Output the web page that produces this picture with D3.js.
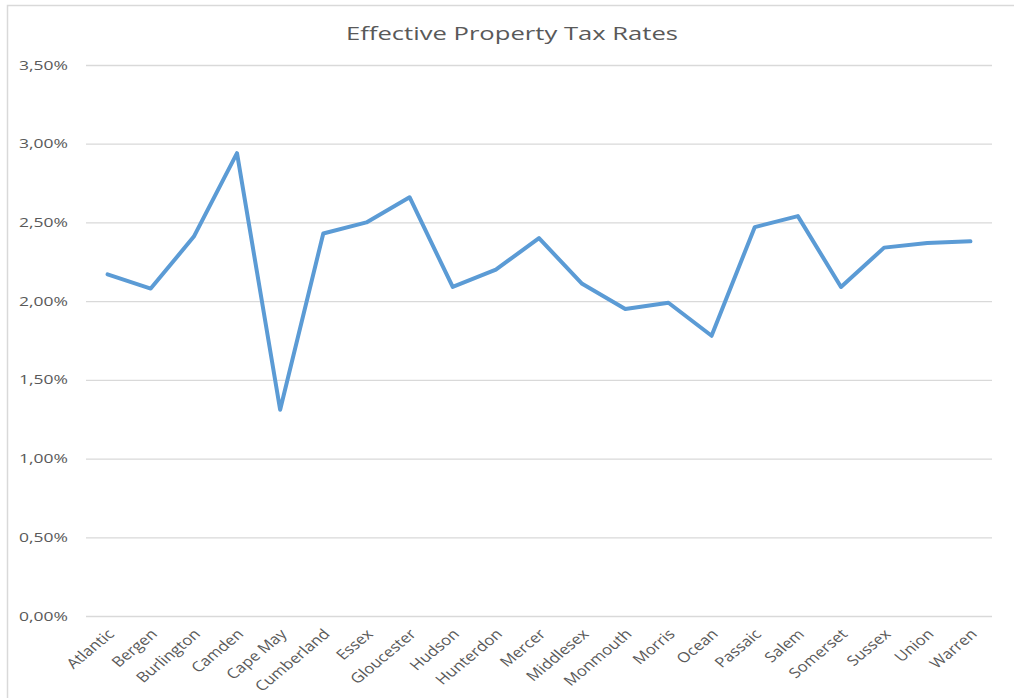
<!DOCTYPE html>
<html>
<head>
<meta charset="utf-8">
<script src="https://cdn.jsdelivr.net/npm/d3@7"></script>
<style>
  body { margin: 0; background: #fff; }
  svg { display: block; }
</style>
</head>
<body>
<div id="chart"></div>
<script>
const counties = ['Atlantic', 'Bergen', 'Burlington', 'Camden', 'Cape May', 'Cumberland', 'Essex',
  'Gloucester', 'Hudson', 'Hunterdon', 'Mercer', 'Middlesex', 'Monmouth', 'Morris', 'Ocean',
  'Passaic', 'Salem', 'Somerset', 'Sussex', 'Union', 'Warren'];
const rates = [2.17, 2.08, 2.41, 2.94, 1.31, 2.43, 2.50, 2.66, 2.09, 2.20, 2.40, 2.11, 1.95, 1.99,
  1.78, 2.47, 2.54, 2.09, 2.34, 2.37, 2.38];
const yTicks = [0, 0.5, 1, 1.5, 2, 2.5, 3, 3.5];

const width = 1014;
const height = 698;
const margin = { top: 65, right: 22, bottom: 82, left: 86 };
const stretch = 1.4; // the original text looks widened sideways
const labelStretch = 1.2;

const svg = d3.select('#chart')
  .append('svg')
  .attr('width', width)
  .attr('height', height)
  .attr('font-family', '"Open Sans", sans-serif');

// chart frame (cut off at right and bottom)
svg.append('path')
  .attr('d', `M7.5,${height}V5.5H${width}`)
  .attr('fill', 'none')
  .attr('stroke', '#d9d9d9')
  .attr('stroke-width', 1.5);

svg.append('text')
  .attr('transform', `translate(512,40) scale(${stretch},1)`)
  .attr('text-anchor', 'middle')
  .attr('font-size', 18.3)
  .attr('fill', '#595959')
  .text('Effective Property Tax Rates');

const x = d3.scalePoint()
  .domain(counties)
  .range([margin.left, width - margin.right])
  .padding(0.5);

const y = d3.scaleLinear()
  .domain([0, 3.5])
  .range([height - margin.bottom, margin.top]);

const fmt = (v) => `${v.toFixed(2).replace('.', ',')}%`;

svg.append('g')
  .attr('transform', `translate(${margin.left},0)`)
  .call(d3.axisLeft(y).tickValues(yTicks).tickFormat(fmt)
    .tickSize(-(width - margin.left - margin.right)).tickPadding(18))
  .call((g) => g.select('.domain').remove())
  .call((g) => g.selectAll('.tick line').attr('stroke', '#d9d9d9').attr('stroke-width', 1.3))
  .call((g) => g.selectAll('.tick text')
    .attr('x', -18 / stretch)
    .attr('transform', `scale(${stretch},1)`)
    .attr('fill', '#595959')
    .attr('font-size', 12.5)
    .attr('font-family', '"Open Sans", sans-serif'));

svg.append('g')
  .attr('transform', `translate(0,${height - margin.bottom})`)
  .call(d3.axisBottom(x).tickSize(0).tickPadding(0))
  .call((g) => g.select('.domain').remove())
  .call((g) => g.selectAll('.tick text')
    .attr('fill', '#595959')
    .attr('font-size', 14)
    .attr('font-family', '"Open Sans", sans-serif')
    .attr('text-anchor', 'end')
    .attr('y', 0)
    .attr('dy', null)
    .attr('transform', `translate(7,19) scale(${labelStretch},1) rotate(-45)`));

const line = d3.line()
  .x((d, i) => x(counties[i]))
  .y((d) => y(d));

svg.append('path')
  .datum(rates)
  .attr('d', line)
  .attr('fill', 'none')
  .attr('stroke', '#5b9bd5')
  .attr('stroke-width', 4)
  .attr('stroke-linejoin', 'round')
  .attr('stroke-linecap', 'round');
</script>
</body>
</html>
